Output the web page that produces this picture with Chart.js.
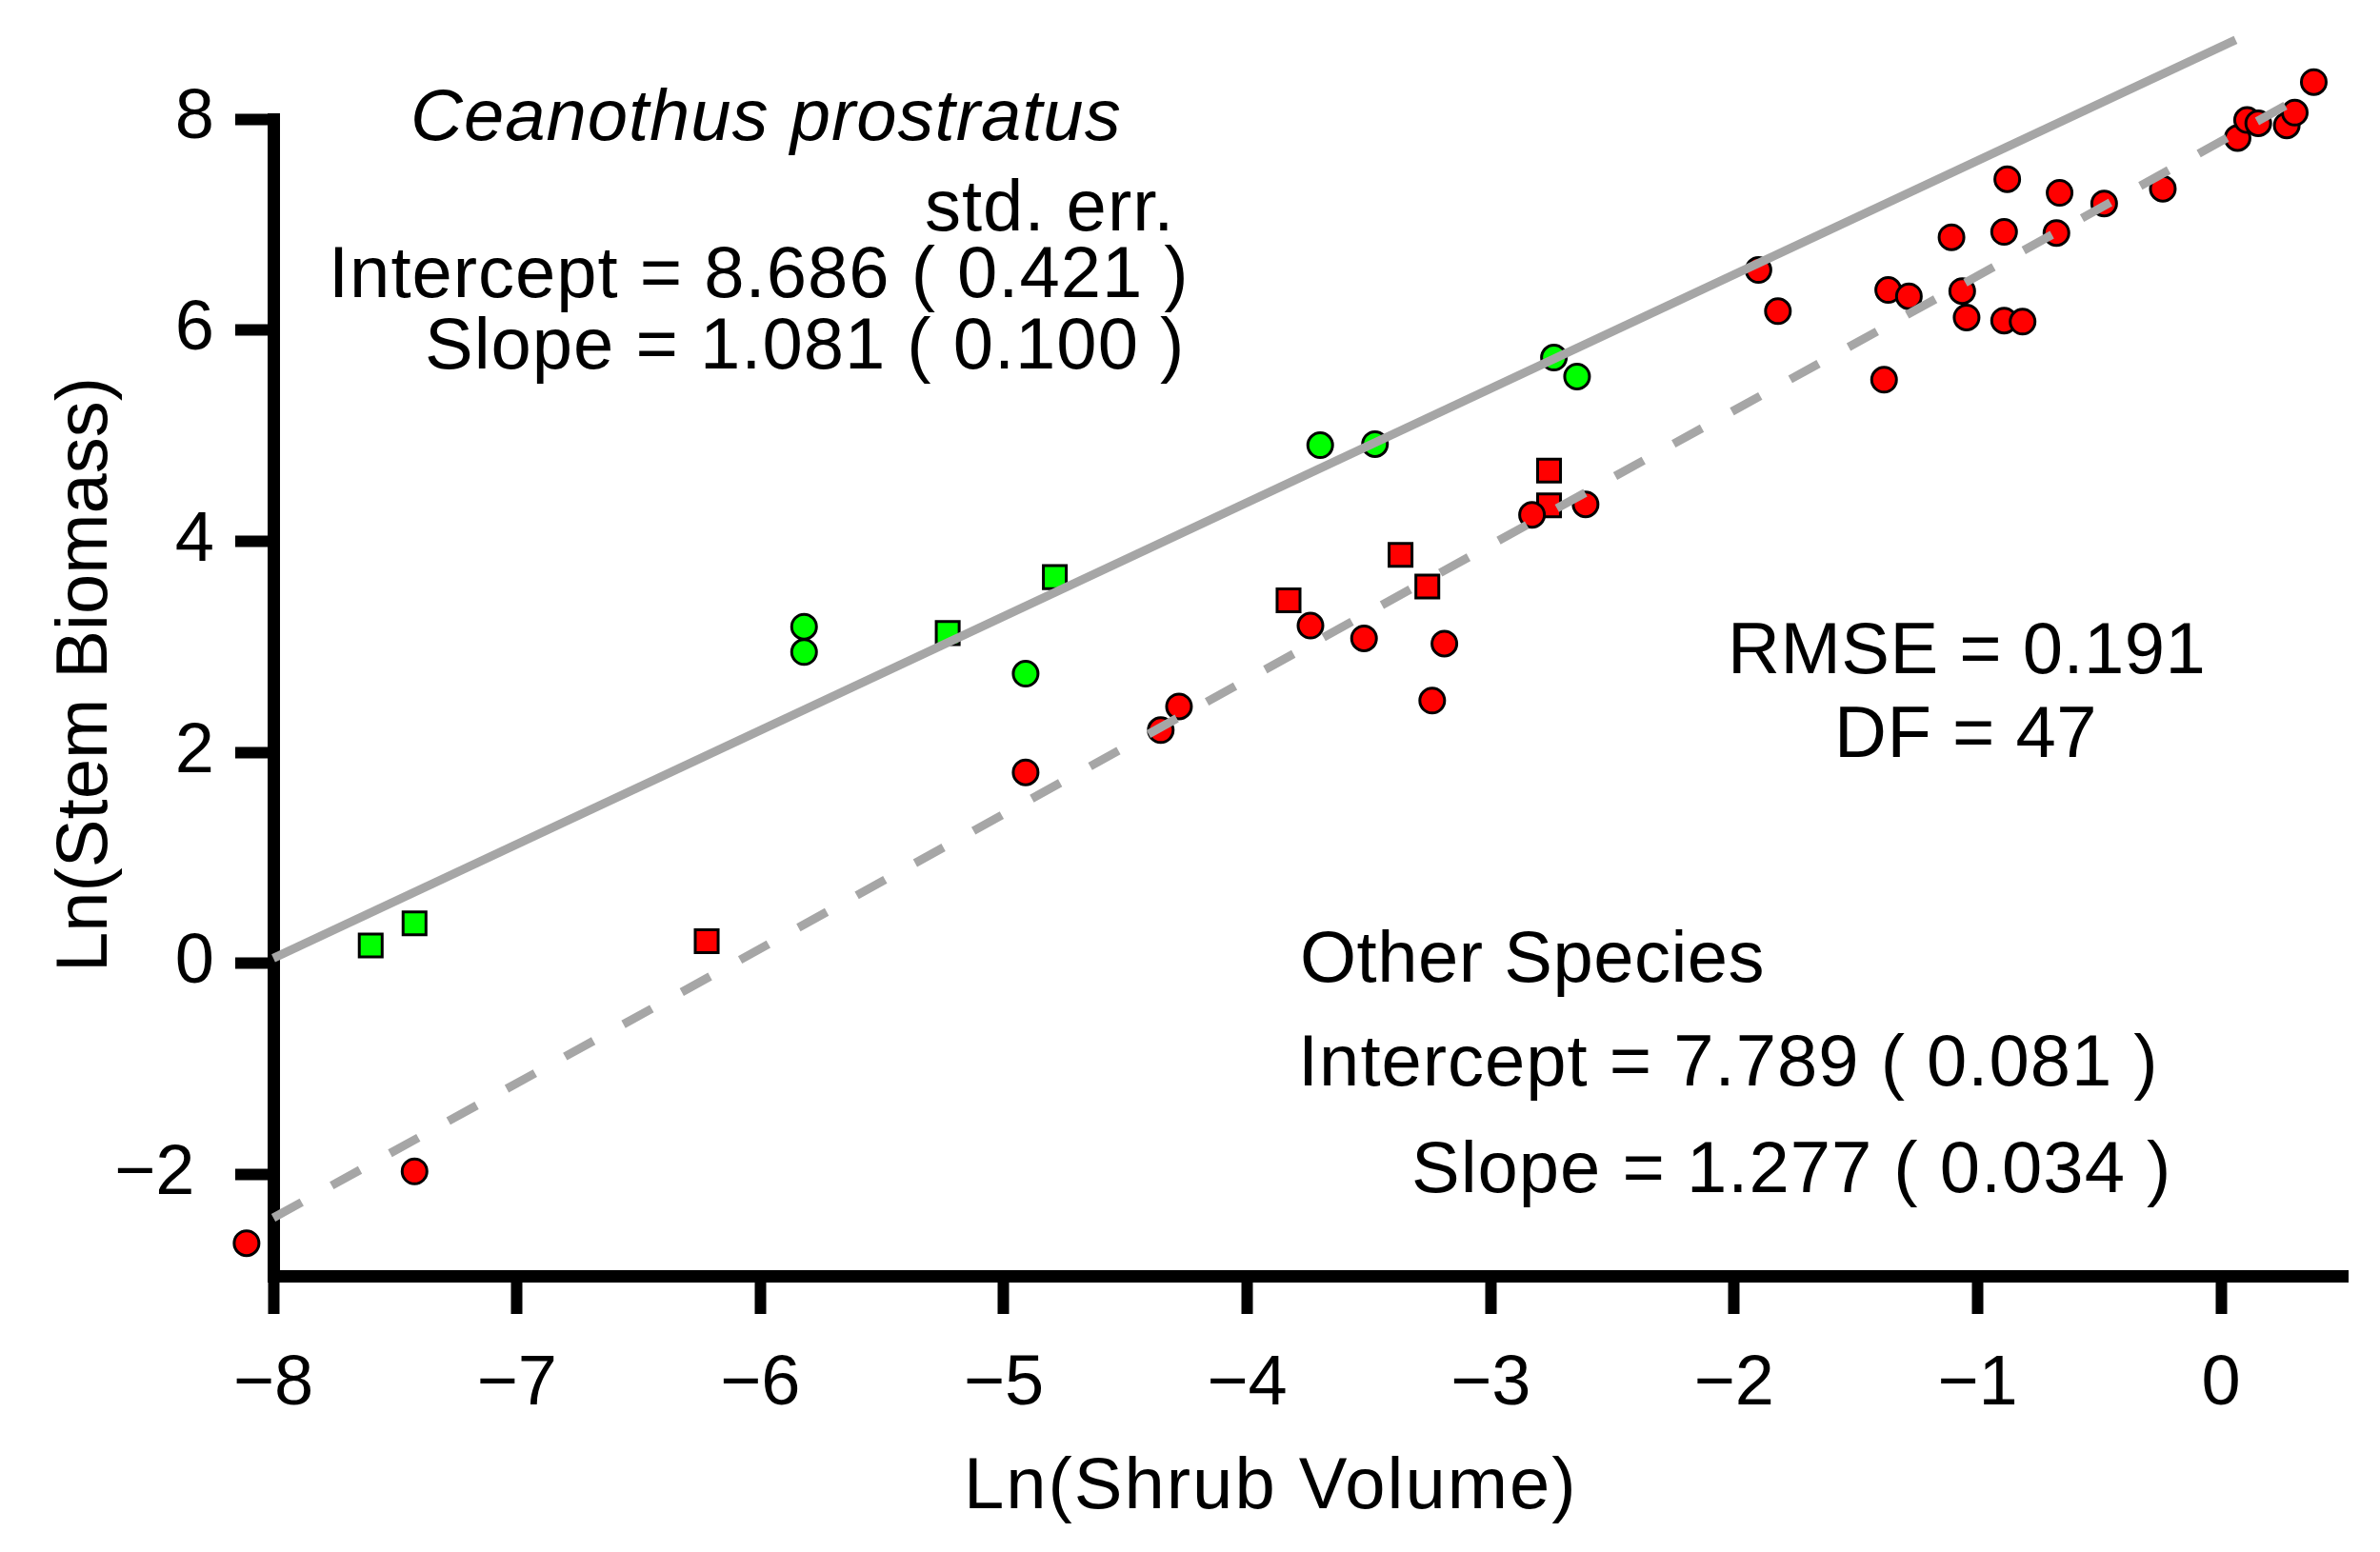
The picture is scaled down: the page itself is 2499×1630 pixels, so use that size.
<!DOCTYPE html>
<html>
<head>
<meta charset="utf-8">
<title>Ln(Stem Biomass) vs Ln(Shrub Volume)</title>
<script src="https://cdn.jsdelivr.net/npm/chart.js@4/dist/chart.umd.min.js"></script>
<style>
  html, body { margin: 0; padding: 0; background: #fff; }
  canvas { display: block; }
</style>
</head>
<body>
<canvas id="chart" width="2499" height="1630"></canvas>
<script>
// --- Data ---
const xTicks = [-8, -7, -6, -5, -4, -3, -2, -1, 0];
const yTicks = [-2, 0, 2, 4, 6, 8];

// Ceanothus prostratus (green)
const ceanRoundX = [-5.82, -5.82, -4.91, -3.70, -3.475, -2.74, -2.645];
const ceanRoundY = [3.19, 2.95, 2.745, 4.91, 4.92, 5.74, 5.56];
const ceanSquareX = [-7.60, -7.42, -5.23, -4.79];
const ceanSquareY = [0.17, 0.38, 3.13, 3.66];

// Other species (red)
const otherRoundX = [-8.11, -7.42, -4.91, -4.355, -4.28, -3.74, -3.52, -3.19, -3.24, -2.83, -2.61,
  -1.90, -1.82, -1.384, -1.367, -1.282, -1.107, -1.063, -1.045, -0.891, -0.815, -0.878, -0.891,
  -0.663, -0.676, -0.48, -0.239, 0.068, 0.107, 0.153, 0.27, 0.303, 0.381];
const otherRoundY = [-2.65, -1.97, 1.81, 2.21, 2.435, 3.20, 3.08, 3.03, 2.49, 4.25, 4.35,
  6.57, 6.18, 5.53, 6.38, 6.32, 6.88, 6.37, 6.12, 6.09, 6.08, 7.43, 6.93,
  7.30, 6.92, 7.20, 7.34, 7.82, 7.99, 7.96, 7.94, 8.06, 8.35];
const otherSquareX = [-6.22, -3.83, -3.37, -3.26, -2.76, -2.76];
const otherSquareY = [0.21, 3.44, 3.87, 3.57, 4.67, 4.34];

// Fitted lines (end points)
const ceanLineX = [-8, 0.06];
const ceanLineY = [0.05, 8.75];
const otherLineX = [-8, 0.33];
const otherLineY = [-2.41, 8.21];

const FONT = "'Liberation Sans', Arial, sans-serif";
const GREY = "#a6a6a6";

const toXY = (xs, ys) => xs.map((x, i) => ({ x, y: ys[i] }));
const fmt = v => (v < 0 ? "\u2212" + Math.abs(v) : String(v));

// --- Texts on the plot ---
const notes = [
  { text: "Ceanothus prostratus", x: 431, y: 147, italic: true, gap: 1 },
  { text: "std. err.", x: 971, y: 242, gap: 1 },
  { text: "Intercept = 8.686 ( 0.421 )", x: 345, y: 312, gap: 1 },
  { text: "Slope = 1.081 ( 0.100 )", x: 446, y: 387, gap: 1 },
  { text: "RMSE = 0.191", x: 1814, y: 707, gap: 0.5 },
  { text: "DF = 47", x: 1926, y: 795, gap: 0.5 },
  { text: "Other Species", x: 1365, y: 1031, gap: 0.5 },
  { text: "Intercept = 7.789 ( 0.081 )", x: 1363, y: 1140, gap: 1 },
  { text: "Slope = 1.277 ( 0.034 )", x: 1482, y: 1252, gap: 1 },
  { text: "Ln(Shrub Volume)", x: 1012, y: 1584, gap: 2 }
];

const notesPlugin = {
  id: "notes",
  afterDraw(chart) {
    const ctx = chart.ctx;
    ctx.save();
    ctx.fillStyle = "#000";
    ctx.textAlign = "left";
    ctx.textBaseline = "alphabetic";
    notes.forEach(n => {
      ctx.font = (n.italic ? "italic " : "") + "76px " + FONT;
      ctx.letterSpacing = n.gap + "px";
      ctx.fillText(n.text, n.x, n.y);
    });
    // y axis title
    ctx.letterSpacing = "0px";
    ctx.font = "76px " + FONT;
    ctx.translate(112, 1021);
    ctx.rotate(-Math.PI / 2);
    ctx.fillText("Ln(Stem Biomass)", 0, 0);
    ctx.restore();
  }
};

// some points sit just outside the axes (as in the original), so let the
// point elements be drawn in a slightly larger area than the axes box
let savedArea = null;
const overhangPlugin = {
  id: "overhang",
  beforeDatasetsDraw(chart) {
    savedArea = chart.chartArea;
    const a = savedArea, m = 120;
    chart.chartArea = {
      left: a.left - m, top: a.top - m, right: a.right + m, bottom: a.bottom + m,
      width: a.width + 2 * m, height: a.height + 2 * m
    };
  },
  afterDatasetsDraw(chart) {
    if (savedArea) chart.chartArea = savedArea;
  }
};

const pointSet = (data, color, style, radius) => ({
  data,
  pointStyle: style,
  pointRadius: radius,
  pointBackgroundColor: color,
  pointBorderColor: "#000",
  pointBorderWidth: 3,
  showLine: false,
  clip: false
});

const lineSet = (data, dash) => ({
  data,
  showLine: true,
  pointRadius: 0,
  borderColor: GREY,
  borderWidth: 9,
  borderDash: dash,
  fill: false,
  clip: false
});

const axisCommon = {
  type: "linear",
  ticks: {
    color: "#000",
    font: { family: FONT, size: 74 },
    autoSkip: false,
    maxRotation: 0,
    callback: v => fmt(v)
  },
  grid: {
    drawOnChartArea: false,
    drawTicks: true,
    tickLength: 40,
    tickWidth: 12,
    tickColor: "#000"
  },
  border: { display: true, color: "#000", width: 13 }
};

new Chart(document.getElementById("chart"), {
  type: "scatter",
  data: {
    datasets: [
      lineSet(toXY(ceanLineX, ceanLineY), []),
      lineSet(toXY(otherLineX, otherLineY), [34, 36]),
      pointSet(toXY(ceanRoundX, ceanRoundY), "#00ff00", "circle", 13),
      pointSet(toXY(ceanSquareX, ceanSquareY), "#00ff00", "rect", 17),
      pointSet(toXY(otherRoundX, otherRoundY), "#ff0000", "circle", 13),
      pointSet(toXY(otherSquareX, otherSquareY), "#ff0000", "rect", 17)
    ]
  },
  options: {
    responsive: false,
    devicePixelRatio: 1,
    animation: false,
    events: [],
    layout: { padding: { left: 0, top: 125, right: 34, bottom: 0 } },
    plugins: { legend: { display: false }, tooltip: { enabled: false } },
    scales: {
      x: {
        ...axisCommon,
        min: -8,
        max: 0.52,
        ticks: { ...axisCommon.ticks, padding: 30 },
        afterBuildTicks: s => { s.ticks = xTicks.map(v => ({ value: v })); },
        afterFit: s => { s.height = 290; }
      },
      y: {
        ...axisCommon,
        min: -2.96,
        max: 8,
        // the negative label sits a little further left in the original
        ticks: { ...axisCommon.ticks, padding: 22, callback: v => (v < 0 ? fmt(v) + " " : fmt(v)) },
        afterBuildTicks: s => { s.ticks = yTicks.map(v => ({ value: v })); },
        afterFit: s => { s.width = 287; }
      }
    }
  },
  plugins: [overhangPlugin, notesPlugin]
});
</script>
</body>
</html>
